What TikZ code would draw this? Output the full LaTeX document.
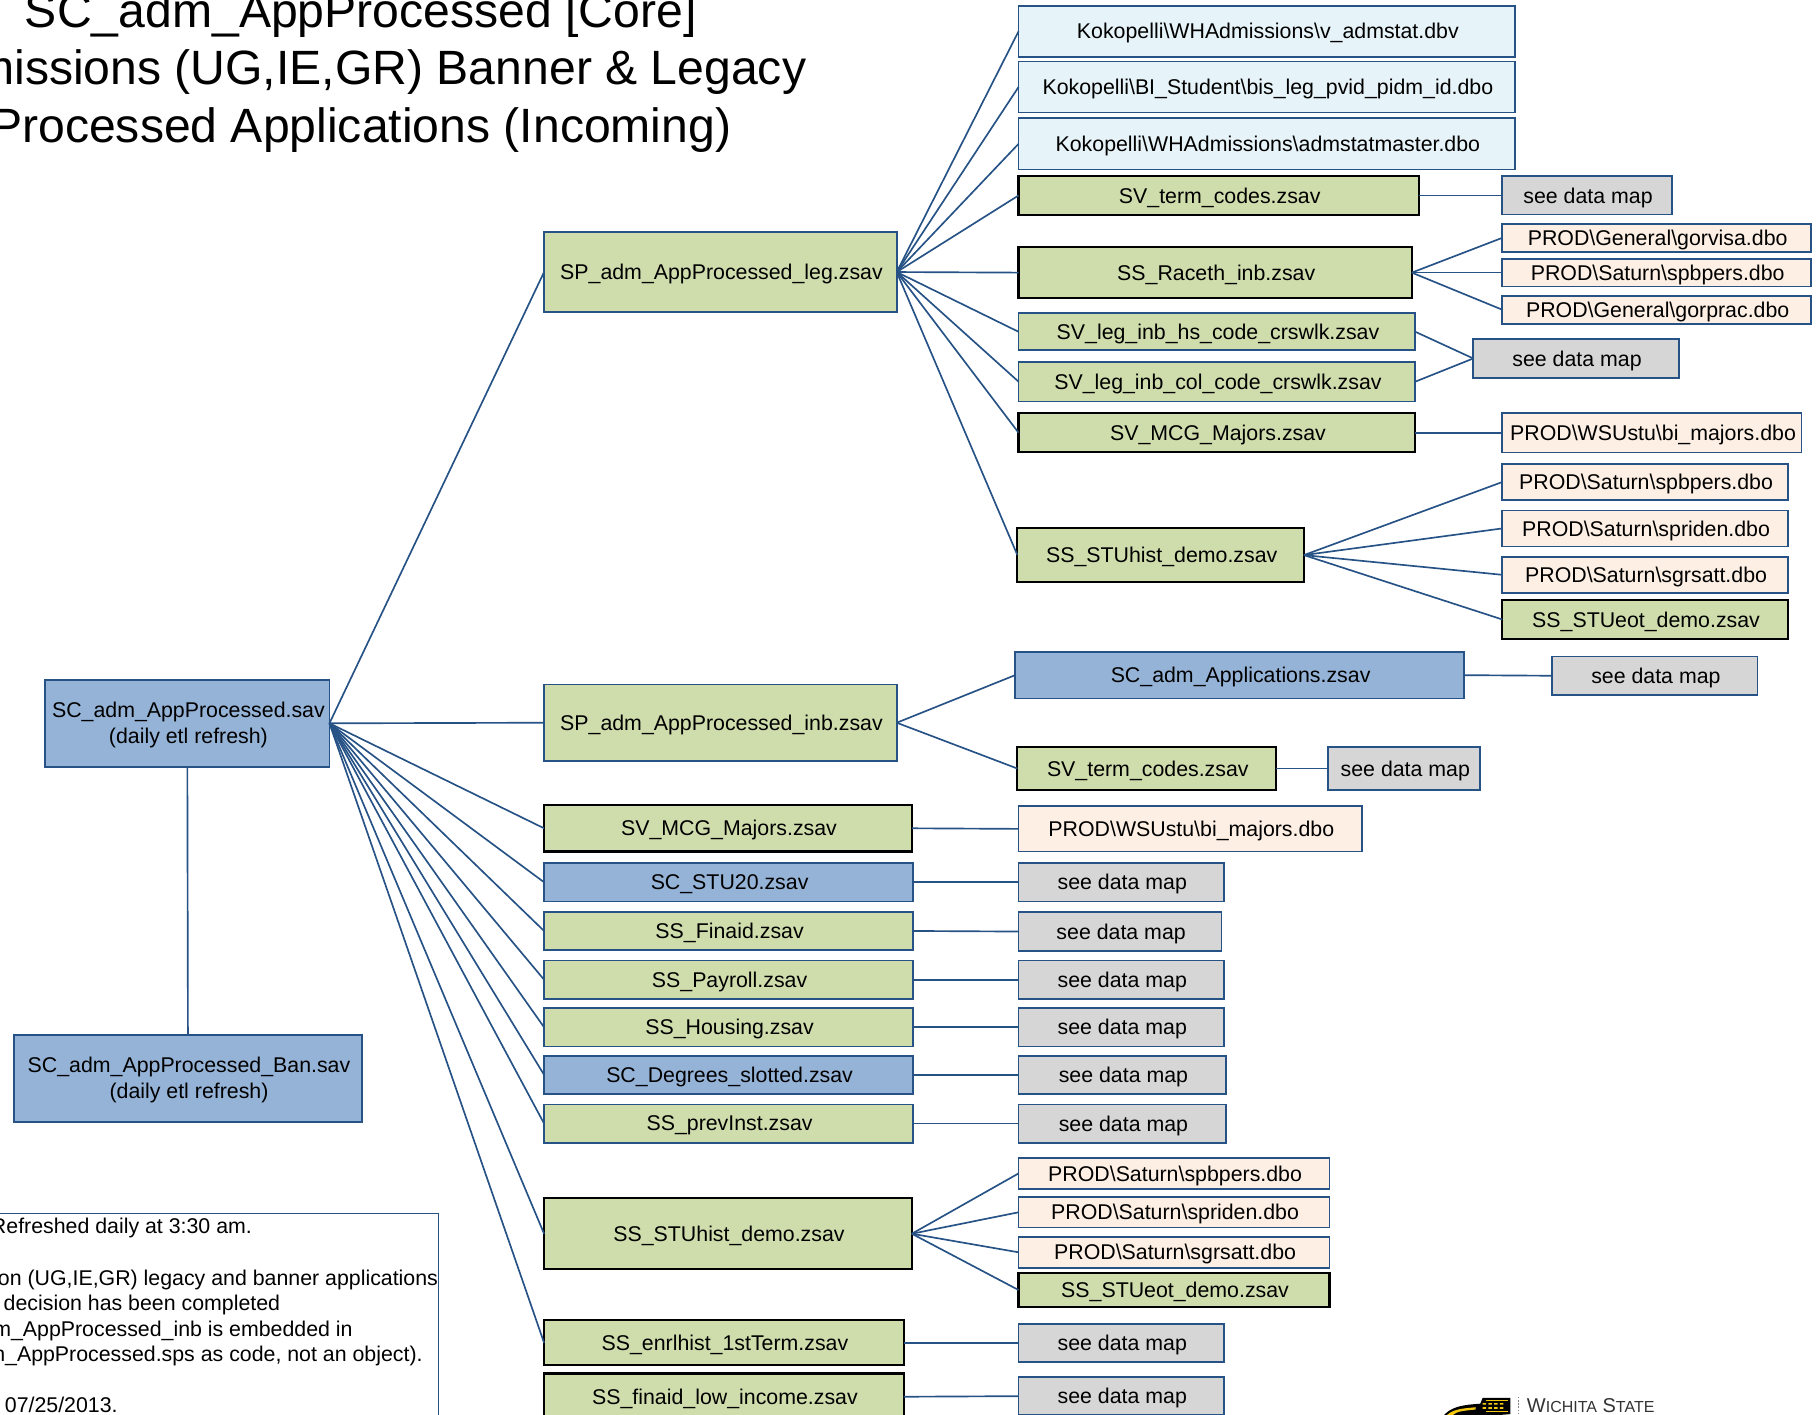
\documentclass[tikz,border=0pt]{standalone}
\usepackage{fontspec}
\setmainfont{Liberation Sans}
\definecolor{lnk}{HTML}{265285}
\definecolor{fgreen}{HTML}{CFDDAC}
\definecolor{fblue}{HTML}{95B3D7}
\definecolor{flight}{HTML}{E6F3F8}
\definecolor{fpeach}{HTML}{FDEFE3}
\definecolor{fgray}{HTML}{D6D6D6}
\definecolor{wheat}{HTML}{F2C811}
\tikzset{
 boxbase/.style={inner sep=0pt,outer sep=0pt,align=center,font=\fontsize{16pt}{19pt}\selectfont,text=black,line width=1.3pt,draw=lnk},
 gsrc/.style={boxbase,fill=fgreen},
 gblk/.style={boxbase,fill=fgreen,draw=black,line width=1.6pt},
 bsrc/.style={boxbase,fill=fblue},
 ksrc/.style={boxbase,fill=flight},
 psrc/.style={boxbase,fill=fpeach},
 mapbox/.style={boxbase,fill=fgray},
 lnkline/.style={draw=lnk,line width=1.25pt},
 notetext/.style={inner sep=0pt,anchor=base west,font=\fontsize{16pt}{19pt}\selectfont},
 titletext/.style={inner sep=0pt,anchor=base,font=\fontsize{36.1pt}{44pt}\selectfont}
}
\newcommand{\bs}{\textbackslash}
\newcommand{\twolines}[2]{\begin{tabular}{@{}c@{}}#1\\#2\end{tabular}}
\newcommand{\bx}[7]{%
 \pgfmathsetmacro{\bxw}{(#5-#3)*0.87}%
 \pgfmathsetmacro{\bxh}{(#6-#4)*0.87}%
 \pgfmathsetmacro{\bxcx}{(#3+#5)/2}%
 \pgfmathsetmacro{\bxcy}{(#4+#6)/2}%
 \node[#2,minimum width=\bxw pt,minimum height=\bxh pt] (#1) at (\bxcx,\bxcy) {\hspace*{1.6pt}\raisebox{-1.6pt}[\height][\depth]{#7}};}
\begin{document}
\begin{tikzpicture}[x=0.87pt,y=-0.87pt]
\path[use as bounding box] (0,0) rectangle (1568,1219);
% title
\node[titletext] (t1) at (311,24) {SC\_adm\_AppProcessed [Core]};
\node[titletext] (t2) at (311,73) {Admissions (UG,IE,GR) Banner \& Legacy};
\node[titletext] (t3) at (311,123) {Processed Applications (Incoming)};
% note
\draw[lnkline] (-5,1046) -- (378,1046) -- (378,1225);
\node[notetext] (n1) at (-8,1063) {Refreshed daily at 3:30 am.};
\node[notetext] (n2) at (-2,1108) {on (UG,IE,GR) legacy and banner applications};
\node[notetext] (n3) at (3,1130) {decision has been completed};
\node[notetext] (n4) at (-6,1152) {m\_AppProcessed\_inb is embedded in};
\node[notetext] (n5) at (-6,1174) {n\_AppProcessed.sps as code, not an object).};
\node[notetext] (n6) at (4,1218) {07/25/2013.};
% root
\bx{root}{bsrc}{39}{586}{284}{661}{\twolines{SC\_adm\_AppProcessed.sav}{(daily etl refresh)}}
\bx{ban}{bsrc}{12}{892}{312}{967}{\twolines{SC\_adm\_AppProcessed\_Ban.sav}{(daily etl refresh)}}
% first level
\bx{leg}{gsrc}{469}{200}{773}{269}{SP\_adm\_AppProcessed\_leg.zsav}
\bx{inb}{gsrc}{469}{590}{773}{656}{SP\_adm\_AppProcessed\_inb.zsav}
\bx{mcg}{gblk}{469}{694}{786}{734}{SV\_MCG\_Majors.zsav}
\bx{stu}{bsrc}{469}{744}{787}{777}{SC\_STU20.zsav}
\bx{fin}{gsrc}{469}{786}{787}{819}{SS\_Finaid.zsav}
\bx{pay}{gsrc}{469}{828}{787}{861}{SS\_Payroll.zsav}
\bx{hou}{gsrc}{469}{869}{787}{902}{SS\_Housing.zsav}
\bx{deg}{bsrc}{469}{910}{787}{943}{SC\_Degrees\_slotted.zsav}
\bx{pre}{gsrc}{469}{952}{787}{985}{SS\_prevInst.zsav}
\bx{his}{gblk}{469}{1033}{786}{1094}{SS\_STUhist\_demo.zsav}
\bx{enr}{gblk}{469}{1138}{779}{1177}{SS\_enrlhist\_1stTerm.zsav}
\bx{low}{gblk}{469}{1184}{779}{1224}{SS\_finaid\_low\_income.zsav}
% leg children
\bx{ka}{ksrc}{878}{5}{1306}{49}{Kokopelli\bs WHAdmissions\bs v\_admstat.dbv}
\bx{kb}{ksrc}{878}{53}{1306}{97}{Kokopelli\bs BI\_Student\bs bis\_leg\_pvid\_pidm\_id.dbo}
\bx{kc}{ksrc}{878}{102}{1306}{146}{Kokopelli\bs WHAdmissions\bs admstatmaster.dbo}
\bx{lt}{gblk}{878}{152}{1223}{185}{SV\_term\_codes.zsav}
\bx{ltm}{mapbox}{1295}{152}{1441}{185}{see data map}
\bx{rc}{gblk}{878}{213}{1217}{257}{SS\_Raceth\_inb.zsav}
\bx{rca}{psrc}{1295}{193}{1561}{217}{PROD\bs General\bs gorvisa.dbo}
\bx{rcb}{psrc}{1295}{223}{1561}{247}{PROD\bs Saturn\bs spbpers.dbo}
\bx{rcc}{psrc}{1295}{255}{1561}{279}{PROD\bs General\bs gorprac.dbo}
\bx{hs}{gsrc}{878}{270}{1220}{302}{SV\_leg\_inb\_hs\_code\_crswlk.zsav}
\bx{col}{gsrc}{878}{312}{1220}{346}{SV\_leg\_inb\_col\_code\_crswlk.zsav}
\bx{hcm}{mapbox}{1270}{292}{1447}{326}{see data map}
\bx{lm}{gblk}{878}{356}{1220}{390}{SV\_MCG\_Majors.zsav}
\bx{lmp}{psrc}{1295}{356}{1553}{390}{PROD\bs WSUstu\bs bi\_majors.dbo}
\bx{lh}{gblk}{877}{455}{1124}{502}{SS\_STUhist\_demo.zsav}
\bx{lha}{psrc}{1295}{400}{1541}{431}{PROD\bs Saturn\bs spbpers.dbo}
\bx{lhb}{psrc}{1295}{440}{1541}{471}{PROD\bs Saturn\bs spriden.dbo}
\bx{lhc}{psrc}{1295}{480}{1541}{511}{PROD\bs Saturn\bs sgrsatt.dbo}
\bx{lhd}{gblk}{1295}{517}{1541}{551}{SS\_STUeot\_demo.zsav}
% inb children
\bx{app}{bsrc}{875}{562}{1262}{602}{SC\_adm\_Applications.zsav}
\bx{appm}{mapbox}{1338}{566}{1515}{599}{see data map}
\bx{it}{gblk}{877}{644}{1100}{681}{SV\_term\_codes.zsav}
\bx{itm}{mapbox}{1145}{644}{1276}{681}{see data map}
% sources of first level
\bx{mcgp}{psrc}{878}{695}{1174}{734}{PROD\bs WSUstu\bs bi\_majors.dbo}
\bx{stum}{mapbox}{878}{744}{1055}{777}{see data map}
\bx{finm}{mapbox}{878}{786}{1053}{820}{see data map}
\bx{paym}{mapbox}{878}{828}{1055}{861}{see data map}
\bx{houm}{mapbox}{878}{869}{1055}{902}{see data map}
\bx{degm}{mapbox}{878}{910}{1057}{943}{see data map}
\bx{prem}{mapbox}{878}{952}{1057}{985}{see data map}
\bx{hisa}{psrc}{878}{998}{1146}{1025}{PROD\bs Saturn\bs spbpers.dbo}
\bx{hisb}{psrc}{878}{1032}{1146}{1058}{PROD\bs Saturn\bs spriden.dbo}
\bx{hisc}{psrc}{878}{1066}{1146}{1093}{PROD\bs Saturn\bs sgrsatt.dbo}
\bx{hisd}{gblk}{878}{1097}{1146}{1127}{SS\_STUeot\_demo.zsav}
\bx{enrm}{mapbox}{878}{1141}{1055}{1174}{see data map}
\bx{lowm}{mapbox}{878}{1187}{1055}{1220}{see data map}
% connectors
\draw[lnkline] (root.south) -- (ban.north);
\foreach \a in {leg,inb,mcg,stu,fin,pay,hou,deg,pre,his,enr}
  \draw[lnkline] (root.east) -- (\a.west);
\foreach \a in {ka,kb,kc,lt,rc,hs,col,lm,lh}
  \draw[lnkline] (leg.east) -- (\a.west);
\draw[lnkline] (lt.east) -- (ltm.west);
\foreach \a in {rca,rcb,rcc} \draw[lnkline] (rc.east) -- (\a.west);
\draw[lnkline] (hs.east) -- (hcm.west);
\draw[lnkline] (col.east) -- (hcm.west);
\draw[lnkline] (lm.east) -- (lmp.west);
\foreach \a in {lha,lhb,lhc,lhd} \draw[lnkline] (lh.east) -- (\a.west);
\draw[lnkline] (inb.east) -- (app.west);
\draw[lnkline] (inb.east) -- (it.west);
\draw[lnkline] (app.east) -- (appm.west);
\draw[lnkline] (it.east) -- (itm.west);
\draw[lnkline] (mcg.east) -- (mcgp.west);
\draw[lnkline] (stu.east) -- (stum.west);
\draw[lnkline] (fin.east) -- (finm.west);
\draw[lnkline] (pay.east) -- (paym.west);
\draw[lnkline] (hou.east) -- (houm.west);
\draw[lnkline] (deg.east) -- (degm.west);
\draw[lnkline] (pre.east) -- (prem.west);
\foreach \a in {hisa,hisb,hisc,hisd} \draw[lnkline] (his.east) -- (\a.west);
\draw[lnkline] (enr.east) -- (enrm.west);
\draw[lnkline] (low.east) -- (lowm.west);
% logo (cut by the page edge)
\fill[black] (1243,1222) .. controls (1250,1212) and (1262,1211) .. (1276,1210) -- (1278,1205) -- (1302,1205) -- (1302,1219) -- (1262,1222) -- cycle;
\fill[wheat] (1247,1220) .. controls (1253,1214) and (1264,1214) .. (1272,1213) -- (1272,1215) .. controls (1264,1216) and (1256,1216) .. (1252,1220) -- cycle;
\fill[wheat] (1281,1206.5) -- (1300,1206.5) -- (1300,1208) -- (1281,1208) -- cycle;
\fill[wheat] (1281,1216) -- (1300,1216) -- (1300,1217.5) -- (1281,1217.5) -- cycle;
\foreach \k in {1278,1283,1288,1293} \fill[wheat] (\k,1209.5) rectangle ++(3,1.4) (\k,1213) rectangle ++(3,1.4);
\draw[gray,line width=1pt,dash pattern=on 1.2pt off 1.2pt] (1309,1204) -- (1309,1220);
\node[inner sep=0pt,anchor=base west,font=\fontsize{15pt}{16pt}\selectfont,text=black!80] (logo) at (1316,1218) {W{\fontsize{12pt}{14pt}\selectfont ICHITA} S{\fontsize{12pt}{14pt}\selectfont TATE}};
\end{tikzpicture}
\end{document}
